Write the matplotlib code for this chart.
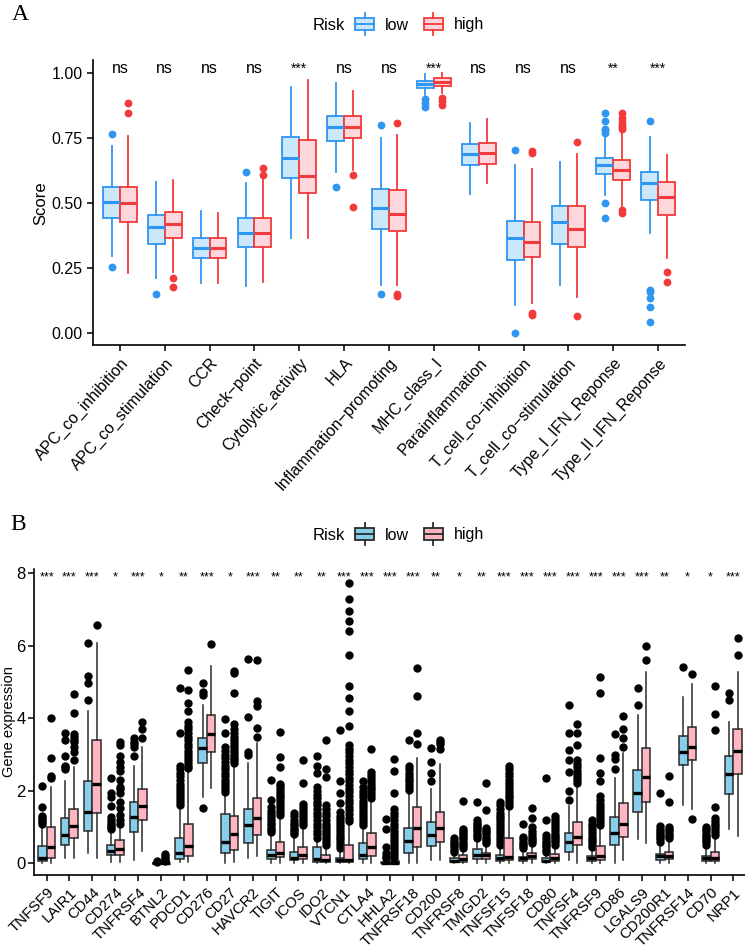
import matplotlib
matplotlib.use("Agg")
import matplotlib.pyplot as plt
import numpy as np
from matplotlib.legend_handler import HandlerBase
from matplotlib.patches import Rectangle, Patch
from matplotlib.lines import Line2D

plt.rcParams['font.family'] = ['Liberation Sans', 'DejaVu Sans']

# ---------------- Panel A data ----------------
# each box: [whislo, q1, median, q3, whishi]
a_labels = ["APC_co_inhibition", "APC_co_stimulation", "CCR", "Check\u2212point",
            "Cytolytic_activity", "HLA", "Inflammation\u2212promoting", "MHC_class_I",
            "Parainflammation", "T_cell_co\u2212inhibition", "T_cell_co\u2212stimulation",
            "Type_I_IFN_Reponse", "Type_II_IFN_Reponse"]
a_sig = ["ns", "ns", "ns", "ns", "***", "ns", "ns", "***", "ns", "ns", "ns", "**", "***"]

a_low_box = [[0.295, 0.44, 0.504, 0.562, 0.718], [0.209, 0.341, 0.408, 0.453, 0.581],
             [0.192, 0.286, 0.325, 0.365, 0.468], [0.18, 0.328, 0.385, 0.442, 0.577],
             [0.363, 0.594, 0.671, 0.751, 0.944], [0.619, 0.738, 0.792, 0.835, 0.959],
             [0.183, 0.399, 0.481, 0.551, 0.748], [0.914, 0.941, 0.957, 0.969, 0.996],
             [0.533, 0.645, 0.686, 0.726, 0.805], [0.107, 0.28, 0.365, 0.431, 0.645],
             [0.183, 0.341, 0.425, 0.489, 0.658], [0.53, 0.609, 0.645, 0.673, 0.754],
             [0.385, 0.51, 0.577, 0.619, 0.751]]
a_low_out = [[0.764, 0.254], [0.149], [], [0.618], [], [0.562], [0.799, 0.151],
             [0.898, 0.885, 0.87], [], [0.703, 0.0], [],
             [0.844, 0.815, 0.785, 0.778, 0.77, 0.501, 0.44],
             [0.815, 0.165, 0.155, 0.135, 0.098, 0.042]]
a_high_box = [[0.231, 0.427, 0.498, 0.562, 0.757], [0.235, 0.363, 0.417, 0.465, 0.587],
              [0.19, 0.286, 0.325, 0.365, 0.462], [0.196, 0.331, 0.382, 0.442, 0.594],
              [0.363, 0.536, 0.603, 0.741, 0.972], [0.626, 0.748, 0.792, 0.835, 0.931],
              [0.183, 0.392, 0.455, 0.549, 0.76], [0.921, 0.95, 0.965, 0.978, 0.998],
              [0.575, 0.648, 0.69, 0.731, 0.822], [0.113, 0.29, 0.348, 0.427, 0.63],
              [0.138, 0.331, 0.401, 0.487, 0.687], [0.485, 0.587, 0.626, 0.664, 0.767],
              [0.286, 0.453, 0.523, 0.581, 0.683]]
a_high_out = [[0.885, 0.844], [0.21, 0.177], [], [0.632, 0.607], [], [0.607, 0.482],
              [0.805, 0.15, 0.14], [0.904, 0.89, 0.876], [], [0.70, 0.69, 0.075, 0.07],
              [0.732, 0.064], [0.844, 0.825, 0.81, 0.80, 0.79, 0.782, 0.472, 0.459],
              [0.235, 0.194]]

# ---------------- Panel B data ----------------
b_labels = ["TNFSF9", "LAIR1", "CD44", "CD274", "TNFRSF4", "BTNL2", "PDCD1", "CD276", "CD27",
            "HAVCR2", "TIGIT", "ICOS", "IDO2", "VTCN1", "CTLA4", "HHLA2", "TNFRSF18", "CD200",
            "TNFRSF8", "TMIGD2", "TNFSF15", "TNFSF18", "CD80", "TNFSF4", "TNFRSF9", "CD86",
            "LGALS9", "CD200R1", "TNFRSF14", "CD70", "NRP1"]
b_sig = ["***", "***", "***", "*", "***", "*", "**", "***", "*", "***", "**", "**", "**", "***",
         "***", "***", "***", "**", "*", "**", "***", "***", "***", "***", "***", "***", "***",
         "**", "*", "*", "***"]

b_low_box = [[0.0, 0.06, 0.155, 0.47, 1.0], [0.14, 0.5, 0.77, 1.24, 2.26],
             [0.28, 0.9, 1.43, 2.28, 4.19], [0.05, 0.23, 0.35, 0.51, 0.85],
             [0.09, 0.87, 1.27, 1.69, 2.69], [0.0, 0.0, 0.005, 0.015, 0.03],
             [0.05, 0.12, 0.3, 0.69, 1.57], [1.84, 2.76, 3.19, 3.45, 4.37],
             [0.02, 0.29, 0.6, 1.35, 1.9], [0.14, 0.55, 1.05, 1.5, 2.76],
             [0.02, 0.11, 0.23, 0.37, 0.83], [0.02, 0.09, 0.16, 0.32, 0.74],
             [0.0, 0.05, 0.11, 0.44, 0.64], [0.0, 0.05, 0.09, 0.16, 0.37],
             [0.02, 0.11, 0.23, 0.55, 1.01], [0.0, 0.0, 0.01, 0.05, 0.1],
             [0.02, 0.29, 0.62, 0.99, 1.95], [0.09, 0.49, 0.78, 1.15, 2.04],
             [0.0, 0.03, 0.06, 0.14, 0.28], [0.02, 0.11, 0.23, 0.39, 0.64],
             [0.0, 0.06, 0.16, 0.23, 0.46], [0.0, 0.06, 0.14, 0.18, 0.37],
             [0.0, 0.03, 0.06, 0.14, 0.28], [0.09, 0.32, 0.58, 0.83, 1.57],
             [0.0, 0.06, 0.14, 0.2, 0.41], [0.0, 0.51, 0.83, 1.27, 2.35],
             [0.66, 1.43, 1.93, 2.58, 4.1], [0.02, 0.09, 0.21, 0.26, 0.55],
             [1.61, 2.72, 3.06, 3.52, 4.58], [0.0, 0.06, 0.16, 0.2, 0.46],
             [0.94, 1.92, 2.47, 2.95, 3.91]]
b_low_out = [[1.1, 1.15, 1.2, 1.25, 1.3, 1.55, 2.13],
             [2.6, 2.66, 2.7, 2.97, 3.41, 3.59],
             [4.51, 4.97, 5.16, 6.08],
             [0.94, 1.0, 1.06, 1.12, 1.2, 1.28, 1.57, 1.84, 1.93, 2.35],
             [2.95, 3.22, 3.3, 3.36, 3.45],
             [0.05, 0.07],
             [1.62, 1.7, 1.78, 1.86, 1.95, 2.03, 2.12, 2.2, 2.3, 2.4, 2.5, 2.6, 2.7, 3.59, 4.83],
             [4.65, 4.74, 4.97, 1.52],
             [1.98, 2.06, 2.14, 2.22, 2.3, 2.4, 2.5, 2.6, 2.7, 2.8, 2.9, 3.0, 3.1, 3.2, 3.61, 3.97],
             [2.99, 3.08, 4.03, 5.64],
             [0.87, 0.93, 0.99, 1.05, 1.12, 1.2, 1.28, 1.36, 1.45, 1.55, 1.75, 2.3],
             [0.8, 0.86, 0.92, 0.98, 1.05, 1.12, 1.2, 1.3, 1.4],
             [0.7, 0.8, 0.9, 1.0, 1.1, 1.2, 1.3, 1.4, 1.5, 1.6, 1.7, 1.8, 1.9, 2.0, 2.1, 2.49, 2.69, 2.97],
             [0.42, 0.5, 0.58, 0.66, 0.74, 0.82, 0.9, 0.98, 1.06, 1.14, 1.22, 1.3, 1.43, 1.66, 1.93, 2.26, 3.68],
             [1.06, 1.14, 1.22, 1.3, 1.38, 1.46, 1.55, 1.64, 1.73, 1.82, 1.91, 2.0, 2.1, 2.28],
             [0.15, 0.2, 0.28, 0.46, 0.94, 1.22],
             [2.02, 2.1, 2.18, 2.26, 2.34, 2.42, 2.5, 2.6, 2.7, 3.41],
             [2.26, 2.49, 2.79, 3.18],
             [0.32, 0.38, 0.44, 0.5, 0.56, 0.62, 0.7],
             [0.7, 0.76, 0.82, 0.88, 0.94, 1.0, 1.06, 1.12, 1.2, 1.68],
             [0.52, 0.6, 0.68, 0.76, 0.84, 0.92, 1.0, 1.08, 1.16, 1.24, 1.32, 1.4, 1.5, 1.6, 1.7],
             [0.42, 0.48, 0.54, 0.6, 0.66, 0.72, 1.1],
             [0.32, 0.38, 0.44, 0.5, 0.56, 0.62, 0.7, 0.78, 1.2, 2.35],
             [1.75, 2.0, 2.53, 2.85, 3.13, 3.61, 4.37],
             [0.46, 0.52, 0.58, 0.64, 0.7, 0.78, 0.86, 0.94, 1.02, 1.1, 1.2],
             [2.61, 2.87, 2.99, 3.57],
             [4.37, 4.83],
             [0.6, 0.66, 0.72, 0.78, 0.84, 0.9, 0.96, 1.02, 1.93],
             [5.41],
             [0.52, 0.58, 0.64, 0.7, 0.76, 0.82, 0.88, 0.94, 1.0],
             [4.51, 4.7]]

b_high_box = [[0.0, 0.16, 0.44, 1.01, 2.12], [0.16, 0.69, 1.04, 1.49, 2.65],
              [0.16, 1.4, 2.19, 3.41, 6.08], [0.05, 0.23, 0.41, 0.64, 1.01],
              [0.34, 1.2, 1.58, 2.04, 3.2], [0.0, 0.0, 0.005, 0.02, 0.04],
              [0.05, 0.2, 0.48, 1.08, 2.56], [2.07, 3.08, 3.57, 4.1, 5.45],
              [0.05, 0.38, 0.8, 1.3, 2.7], [0.2, 0.78, 1.25, 1.8, 3.31],
              [0.02, 0.17, 0.28, 0.6, 1.29], [0.02, 0.11, 0.23, 0.46, 1.01],
              [0.0, 0.05, 0.09, 0.23, 0.46], [0.0, 0.05, 0.09, 0.51, 1.1],
              [0.02, 0.2, 0.44, 0.83, 1.75], [0.0, 0.0, 0.01, 0.06, 0.12],
              [0.02, 0.44, 0.97, 1.55, 2.9], [0.09, 0.6, 0.97, 1.41, 2.74],
              [0.0, 0.05, 0.11, 0.22, 0.37], [0.02, 0.11, 0.23, 0.28, 0.51],
              [0.0, 0.09, 0.18, 0.69, 1.52], [0.0, 0.11, 0.2, 0.29, 0.51],
              [0.0, 0.06, 0.16, 0.26, 0.46], [0.0, 0.51, 0.74, 1.15, 2.16],
              [0.0, 0.09, 0.2, 0.49, 1.01], [0.1, 0.72, 1.08, 1.66, 3.04],
              [0.55, 1.68, 2.39, 3.18, 5.29], [0.02, 0.11, 0.21, 0.32, 0.63],
              [1.49, 2.85, 3.2, 3.76, 4.95], [0.0, 0.06, 0.16, 0.32, 0.74],
              [0.76, 2.47, 3.11, 3.71, 5.29]]
b_high_out = [[2.35, 2.41, 2.9, 4.02],
              [2.84, 3.08, 3.22, 3.35, 3.41, 3.5, 3.57, 4.14, 4.68],
              [6.58],
              [1.1, 1.2, 1.34, 1.52, 1.7, 1.93, 2.05, 2.12, 2.3, 2.55, 2.65, 2.81, 2.95, 3.27, 3.36],
              [3.45, 3.7, 3.89],
              [0.06, 0.1, 0.15, 0.2, 0.25],
              [2.62, 2.7, 2.78, 2.86, 2.94, 3.02, 3.1, 3.2, 3.3, 3.4, 3.5, 3.6, 3.7, 3.8, 3.9, 4.19, 4.42, 4.79, 5.34],
              [6.05],
              [2.76, 2.84, 2.92, 3.0, 3.08, 3.16, 3.24, 3.32, 3.4, 3.5, 3.6, 3.7, 3.85, 4.7, 5.25, 5.32],
              [3.5, 3.73, 4.33, 4.47, 5.62],
              [1.34, 1.42, 1.5, 1.58, 1.66, 1.74, 1.82, 1.9, 1.98, 2.06, 2.14, 2.2, 2.67, 2.93, 3.62],
              [1.06, 1.14, 1.22, 1.3, 1.38, 1.46, 1.55, 1.65, 2.23, 2.85],
              [0.52, 0.6, 0.68, 0.76, 0.84, 0.92, 1.0, 1.1, 1.2, 1.3, 1.4, 1.5, 1.6, 2.39, 2.6, 3.39],
              [1.16, 1.26, 1.36, 1.46, 1.56, 1.66, 1.76, 1.86, 1.96, 2.06, 2.16, 2.26, 2.36, 2.46, 2.56,
               2.66, 2.76, 2.86, 2.96, 3.06, 3.16, 3.26, 3.79, 4.19, 4.56, 4.9, 5.75, 6.42, 6.69, 6.95,
               7.29, 7.73],
              [1.8, 1.88, 1.96, 2.04, 2.12, 2.2, 2.28, 2.36, 2.44, 2.52, 3.15],
              [0.16, 0.24, 0.32, 0.4, 0.48, 0.56, 0.64, 0.72, 0.8, 0.9, 1.0, 1.1, 1.2, 1.3, 1.4, 1.5, 1.93, 2.56, 2.87],
              [3.29, 3.61, 4.62, 5.39],
              [3.15, 3.3, 3.35, 3.41],
              [0.42, 0.48, 0.54, 0.6, 0.66, 0.72, 0.78, 0.84, 0.9, 0.96, 1.73],
              [0.56, 0.62, 0.68, 0.74, 0.8, 0.86, 0.92, 0.98, 1.47, 2.23],
              [1.58, 1.66, 1.74, 1.82, 1.9, 1.98, 2.06, 2.14, 2.22, 2.3, 2.4, 2.5, 2.6, 2.7],
              [0.56, 0.62, 0.68, 0.74, 0.8, 0.88, 1.01, 1.24, 1.52],
              [0.52, 0.58, 0.64, 0.7, 0.76, 0.82, 0.9, 0.98, 1.06, 1.14, 1.22, 1.3],
              [2.22, 2.3, 2.38, 2.46, 2.55, 2.65, 2.75, 2.85, 3.27, 3.59, 3.84],
              [1.06, 1.14, 1.22, 1.3, 1.38, 1.46, 1.55, 1.65, 1.75, 1.85, 2.26, 2.49, 2.9, 4.71, 5.14],
              [3.22, 3.45, 3.7, 4.07],
              [5.6, 5.99],
              [0.7, 0.76, 0.82, 0.88, 0.94, 1.0, 1.69, 2.42],
              [5.22, 1.22],
              [0.78, 0.86, 0.94, 1.02, 1.1, 1.18, 1.26, 1.55, 3.68, 4.13, 4.88],
              [5.75, 6.22]]


def make_stats(boxes, outs):
    return [dict(whislo=b[0], q1=b[1], med=b[2], q3=b[3], whishi=b[4], fliers=o)
            for b, o in zip(boxes, outs)]


def draw_boxes(ax, boxes, outs, pos, edge, fill, med_col, fl_col, lw, mlw, ms):
    ax.bxp(make_stats(boxes, outs), positions=pos, widths=0.375, patch_artist=True,
           showcaps=False, manage_ticks=False,
           boxprops=dict(facecolor=fill, edgecolor=edge, linewidth=lw),
           whiskerprops=dict(color=edge, linewidth=lw),
           medianprops=dict(color=med_col, linewidth=mlw, solid_capstyle='butt'),
           flierprops=dict(marker='o', markerfacecolor=fl_col, markeredgecolor=fl_col,
                           markersize=ms, linestyle='none'))


class BoxKey(HandlerBase):
    # small boxplot glyph for the legend keys
    def create_artists(self, legend, orig, xd, yd, w, h, fontsize, trans):
        fc = orig.get_facecolor()
        ec = orig.get_edgecolor()
        x0, y0 = -xd, -yd
        r = Rectangle((x0, y0), w, h, facecolor=fc, edgecolor=ec, linewidth=1.3, transform=trans)
        cx = x0 + w / 2
        m = Line2D([x0, x0 + w], [y0 + h / 2] * 2, color=ec, linewidth=1.3, transform=trans)
        t = Line2D([cx, cx], [y0 + h, y0 + h * 1.4], color=ec, linewidth=1.3, transform=trans)
        b = Line2D([cx, cx], [y0, y0 - h * 0.4], color=ec, linewidth=1.3, transform=trans)
        return [r, m, t, b]


fig = plt.figure(figsize=(7.45, 9.5), dpi=100)

# ---------------- Panel A ----------------
axA = fig.add_axes([93 / 745, 1 - 345 / 950, (685 - 93) / 745, (345 - 60) / 950])
xa = np.arange(len(a_labels))
draw_boxes(axA, a_low_box, a_low_out, xa - 0.1875, '#2E95F0', '#CBE7FA', '#2E95F0', '#2E95F0', 1.3, 2.2, 4.6)
draw_boxes(axA, a_high_box, a_high_out, xa + 0.1875, '#F23A3A', '#FDD7DC', '#F23A3A', '#F23A3A', 1.3, 2.2, 4.6)
for i, s in enumerate(a_sig):
    axA.text(xa[i], 1.0, s, ha='center', va='baseline', fontsize=11.5 if s == 'ns' else 10)
axA.set_xlim(-0.6, len(a_labels) - 0.4)
axA.set_ylim(-0.047, 1.049)
axA.set_yticks([0, 0.25, 0.5, 0.75, 1.0])
axA.set_yticklabels(["0.00", "0.25", "0.50", "0.75", "1.00"])
axA.set_xticks(xa)
axA.set_xticklabels(a_labels, rotation=48, ha='right', va='top', rotation_mode='anchor')
for sp in ['top', 'right']:
    axA.spines[sp].set_visible(False)
for sp in ['left', 'bottom']:
    axA.spines[sp].set_linewidth(1.2)
axA.tick_params(axis='both', labelsize=11.5, length=4, width=1.1, colors='black')
fig.text(41 / 745, 1 - 203 / 950, "Score", rotation=90, ha='center', va='center', fontsize=12)

fig.text(12 / 745, 1 - 20 / 950, "A", family='Liberation Serif', fontsize=17)
fig.text(313 / 745, 1 - 25 / 950, "Risk", fontsize=12, va='center')
fig.legend(handles=[Patch(facecolor='#CBE7FA', edgecolor='#2E95F0'),
                    Patch(facecolor='#FDD7DC', edgecolor='#F23A3A')],
           labels=["low", "high"], handler_map={Patch: BoxKey()},
           loc='center left', bbox_to_anchor=(355 / 745, 1 - 25 / 950), ncol=2,
           frameon=False, fontsize=11.5, handlelength=1.2, handleheight=0.8,
           handletextpad=0.7, columnspacing=0.9, borderpad=0, borderaxespad=0)

# ---------------- Panel B ----------------
axB = fig.add_axes([34 / 745, 1 - 875 / 950, (746 - 34) / 745, (875 - 569) / 950])
xb = np.arange(len(b_labels))
draw_boxes(axB, b_low_box, b_low_out, xb - 0.1875, '#2B2B2B', '#87CEEB', 'black', 'black', 1.1, 2.4, 5)
draw_boxes(axB, b_high_box, b_high_out, xb + 0.1875, '#2B2B2B', '#FFB6C1', 'black', 'black', 1.1, 2.4, 5)
for i, s in enumerate(b_sig):
    axB.text(xb[i], 7.9, s, ha='center', va='center', fontsize=9)
axB.set_xlim(-0.55, len(b_labels) - 0.45)
axB.set_ylim(-0.32, 8.12)
axB.set_yticks([0, 2, 4, 6, 8])
axB.set_xticks(xb)
axB.set_xticklabels(b_labels, rotation=45, ha='right', va='top', rotation_mode='anchor')
for sp in ['top', 'right']:
    axB.spines[sp].set_visible(False)
for sp in ['left', 'bottom']:
    axB.spines[sp].set_linewidth(1.2)
axB.tick_params(axis='y', labelsize=12, length=4, width=1.1, pad=2)
axB.tick_params(axis='x', labelsize=10.8, length=4, width=1.1)
fig.text(9 / 745, 1 - 722 / 950, "Gene expression", rotation=90, ha='center', va='center', fontsize=10.5)

fig.text(10 / 745, 1 - 530 / 950, "B", family='Liberation Serif', fontsize=17)
fig.text(313 / 745, 1 - 535 / 950, "Risk", fontsize=12, va='center')
fig.legend(handles=[Patch(facecolor='#87CEEB', edgecolor='#2B2B2B'),
                    Patch(facecolor='#FFB6C1', edgecolor='#2B2B2B')],
           labels=["low", "high"], handler_map={Patch: BoxKey()},
           loc='center left', bbox_to_anchor=(355 / 745, 1 - 535 / 950), ncol=2,
           frameon=False, fontsize=11.5, handlelength=1.2, handleheight=0.8,
           handletextpad=0.7, columnspacing=0.9, borderpad=0, borderaxespad=0)

fig.savefig("out.png", dpi=100)
